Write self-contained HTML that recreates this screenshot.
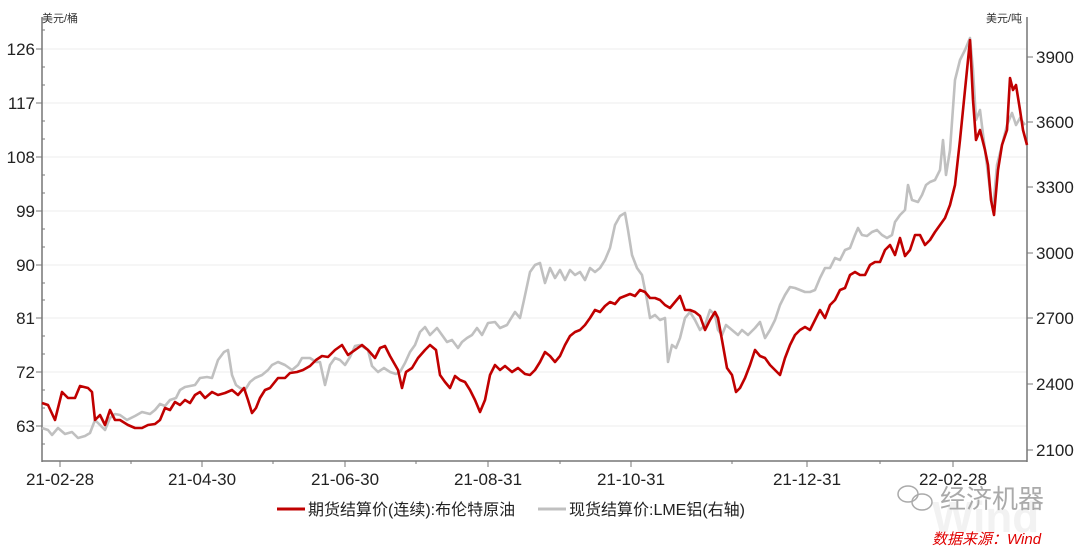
<!DOCTYPE html>
<html><head><meta charset="utf-8"><style>
body{margin:0;background:#fff;width:1080px;height:550px;overflow:hidden;font-family:"Liberation Sans","Noto Sans CJK SC",sans-serif}
</style></head><body>
<svg width="1080" height="550" xmlns="http://www.w3.org/2000/svg" font-family="Liberation Sans, Noto Sans CJK SC, sans-serif">
<g stroke="#eeeeee" stroke-width="1">
<line x1="42" x2="1027" y1="49" y2="49"/><line x1="42" x2="1027" y1="103" y2="103"/><line x1="42" x2="1027" y1="157" y2="157"/><line x1="42" x2="1027" y1="211" y2="211"/><line x1="42" x2="1027" y1="265" y2="265"/><line x1="42" x2="1027" y1="318" y2="318"/><line x1="42" x2="1027" y1="372" y2="372"/><line x1="42" x2="1027" y1="426" y2="426"/>
</g>
<g stroke="#777" stroke-width="1.5" fill="none">
<line x1="42" y1="17" x2="42" y2="462"/><line x1="1027" y1="17" x2="1027" y2="462"/><line x1="42" y1="461" x2="1027" y2="461"/>
</g>
<g stroke="#777" stroke-width="1">
<line x1="36" x2="42" y1="49" y2="49"/><line x1="36" x2="42" y1="103" y2="103"/><line x1="36" x2="42" y1="157" y2="157"/><line x1="36" x2="42" y1="211" y2="211"/><line x1="36" x2="42" y1="265" y2="265"/><line x1="36" x2="42" y1="318" y2="318"/><line x1="36" x2="42" y1="372" y2="372"/><line x1="36" x2="42" y1="426" y2="426"/>
<line x1="42" x2="45" y1="30" y2="30"/><line x1="42" x2="45" y1="67" y2="67"/><line x1="42" x2="45" y1="85" y2="85"/><line x1="42" x2="45" y1="121" y2="121"/><line x1="42" x2="45" y1="139" y2="139"/><line x1="42" x2="45" y1="175" y2="175"/><line x1="42" x2="45" y1="193" y2="193"/><line x1="42" x2="45" y1="229" y2="229"/><line x1="42" x2="45" y1="247" y2="247"/><line x1="42" x2="45" y1="283" y2="283"/><line x1="42" x2="45" y1="300" y2="300"/><line x1="42" x2="45" y1="336" y2="336"/><line x1="42" x2="45" y1="354" y2="354"/><line x1="42" x2="45" y1="390" y2="390"/><line x1="42" x2="45" y1="408" y2="408"/><line x1="42" x2="45" y1="444" y2="444"/>
<line x1="1027" x2="1033" y1="57" y2="57"/><line x1="1027" x2="1033" y1="122" y2="122"/><line x1="1027" x2="1033" y1="187" y2="187"/><line x1="1027" x2="1033" y1="253" y2="253"/><line x1="1027" x2="1033" y1="318" y2="318"/><line x1="1027" x2="1033" y1="384" y2="384"/><line x1="1027" x2="1033" y1="450" y2="450"/>
<line y1="461" y2="467" x1="60" x2="60"/><line y1="461" y2="467" x1="202" x2="202"/><line y1="461" y2="467" x1="345" x2="345"/><line y1="461" y2="467" x1="488" x2="488"/><line y1="461" y2="467" x1="631" x2="631"/><line y1="461" y2="467" x1="807" x2="807"/><line y1="461" y2="467" x1="953" x2="953"/>
<line y1="461" y2="464" x1="131" x2="131"/><line y1="461" y2="464" x1="273" x2="273"/><line y1="461" y2="464" x1="416" x2="416"/><line y1="461" y2="464" x1="560" x2="560"/><line y1="461" y2="464" x1="732" x2="732"/><line y1="461" y2="464" x1="880" x2="880"/>
</g>
<g font-size="17" fill="#222" text-anchor="end">
<text x="35" y="55">126</text><text x="35" y="109">117</text><text x="35" y="163">108</text><text x="35" y="217">99</text><text x="35" y="271">90</text><text x="35" y="324">81</text><text x="35" y="378">72</text><text x="35" y="432">63</text>
</g>
<g font-size="17" fill="#222">
<text x="1036" y="63">3900</text><text x="1036" y="128">3600</text><text x="1036" y="193">3300</text><text x="1036" y="259">3000</text><text x="1036" y="324">2700</text><text x="1036" y="390">2400</text><text x="1036" y="456">2100</text>
</g>
<g font-size="17" fill="#222" text-anchor="middle">
<text x="60" y="485">21-02-28</text><text x="202" y="485">21-04-30</text><text x="345" y="485">21-06-30</text><text x="488" y="485">21-08-31</text><text x="631" y="485">21-10-31</text><text x="807" y="485">21-12-31</text><text x="953" y="485">22-02-28</text>
</g>
<text x="42" y="22" font-size="11" fill="#333">美元/桶</text>
<text x="986" y="22" font-size="11" fill="#333">美元/吨</text>
<polyline fill="none" stroke="#c0c0c0" stroke-width="2.6" stroke-linejoin="round" points="42,428 48,430 52,435 58,428 65,434 72,432 78,438 85,436 90,433 95,420 100,425 105,430 110,418 115,414 120,415 127,420 135,416 142,412 150,414 155,410 160,404 165,406 170,400 176,398 180,390 185,387 190,386 195,385 200,378 207,377 212,378 218,360 224,352 228,350 232,375 236,385 240,388 245,390 250,382 255,378 262,375 268,370 272,365 278,362 285,365 292,370 298,365 302,358 310,358 316,362 320,362 325,385 330,365 335,358 340,360 345,365 350,357 355,346 360,345 368,350 372,366 378,372 384,368 390,372 396,374 400,372 405,363 410,352 415,345 420,332 425,327 430,335 437,328 442,335 447,342 452,340 458,348 462,342 467,338 472,335 477,328 482,335 488,323 495,322 500,328 507,325 510,320 515,312 520,318 524,300 530,272 535,265 540,263 545,283 550,268 555,278 560,270 565,280 570,270 575,275 580,272 585,280 590,268 595,272 600,268 605,260 610,248 615,225 620,216 625,213 628,230 632,255 637,268 642,275 647,300 650,318 655,315 660,320 665,318 668,362 672,345 676,348 680,338 685,318 690,312 695,320 700,330 705,325 710,310 715,315 718,330 722,335 726,325 732,330 738,335 742,330 748,335 755,328 760,322 765,338 770,330 775,320 780,305 785,295 790,287 795,288 800,290 805,292 810,292 815,290 820,278 825,268 830,268 835,258 840,260 845,250 850,248 855,235 858,228 862,235 867,236 872,232 877,230 882,235 887,238 892,235 895,222 900,215 905,210 908,185 912,200 918,202 922,195 926,185 930,182 935,180 940,170 943,140 946,175 950,150 955,80 960,60 965,50 970,38 973,70 976,120 980,110 985,150 990,190 993,210 997,165 1002,145 1007,125 1012,113 1016,125 1020,118 1025,125"/>
<polyline fill="none" stroke="#c00000" stroke-width="2.6" stroke-linejoin="round" points="42,403 48,405 55,420 62,392 68,398 75,398 80,386 88,388 92,392 95,420 100,415 105,425 110,410 115,420 120,420 128,425 135,428 142,428 148,425 155,424 160,420 165,408 170,410 175,402 180,405 185,400 190,403 195,395 200,392 205,398 212,392 218,395 225,393 232,390 238,395 244,388 248,400 252,413 256,408 260,398 265,390 270,388 278,378 285,378 290,373 297,372 303,370 310,366 316,360 322,356 328,357 335,350 342,345 348,355 355,350 362,345 368,350 375,358 380,348 385,346 390,356 398,370 402,388 406,372 412,368 418,358 425,350 430,345 436,350 440,375 445,382 450,388 455,376 460,380 465,382 470,390 475,400 480,412 485,400 490,375 495,365 500,370 505,366 512,372 518,368 525,374 530,375 535,370 540,362 545,352 550,356 555,362 560,356 565,345 570,336 575,332 580,330 585,325 590,318 595,310 600,312 605,306 610,302 615,304 620,298 625,296 630,294 635,296 640,290 645,292 650,298 655,298 660,300 665,305 670,308 675,302 680,296 685,310 690,310 695,312 700,316 705,330 710,320 715,312 718,318 722,340 727,368 732,375 736,392 740,388 745,378 750,365 755,350 760,356 765,358 770,365 775,370 780,375 785,358 790,345 795,335 800,330 805,327 810,330 815,320 820,310 825,318 830,305 835,300 840,290 845,288 850,275 855,272 860,275 865,275 870,265 875,262 880,262 885,250 890,245 895,255 900,238 905,256 910,250 915,235 920,235 925,245 930,240 935,232 940,225 945,218 950,205 955,185 960,140 965,90 970,40 973,100 976,140 980,130 985,150 988,165 991,200 994,215 998,170 1002,145 1007,130 1010,78 1013,90 1016,85 1020,110 1023,130 1027,145"/>
<line x1="277" x2="305" y1="509" y2="509" stroke="#c00000" stroke-width="3"/>
<text x="308" y="515" font-size="16" fill="#222">期货结算价(连续):布伦特原油</text>
<line x1="538" x2="566" y1="509" y2="509" stroke="#c0c0c0" stroke-width="3"/>
<text x="569" y="515" font-size="16" fill="#222">现货结算价:LME铝(右轴)</text>
<text x="932" y="532" font-size="44" font-weight="bold" fill="#f2f2f2">Wind</text>
<g fill="none" stroke="#aaa" stroke-width="1.5"><ellipse cx="908" cy="494" rx="10" ry="8"/><ellipse cx="922" cy="502" rx="10" ry="8"/></g>
<text x="940" y="508" font-size="26" fill="#aaa">经济机器</text>
<text x="932" y="544" font-size="15" font-style="italic" fill="#e00000">数据来源：Wind</text>
</svg>
</body></html>
